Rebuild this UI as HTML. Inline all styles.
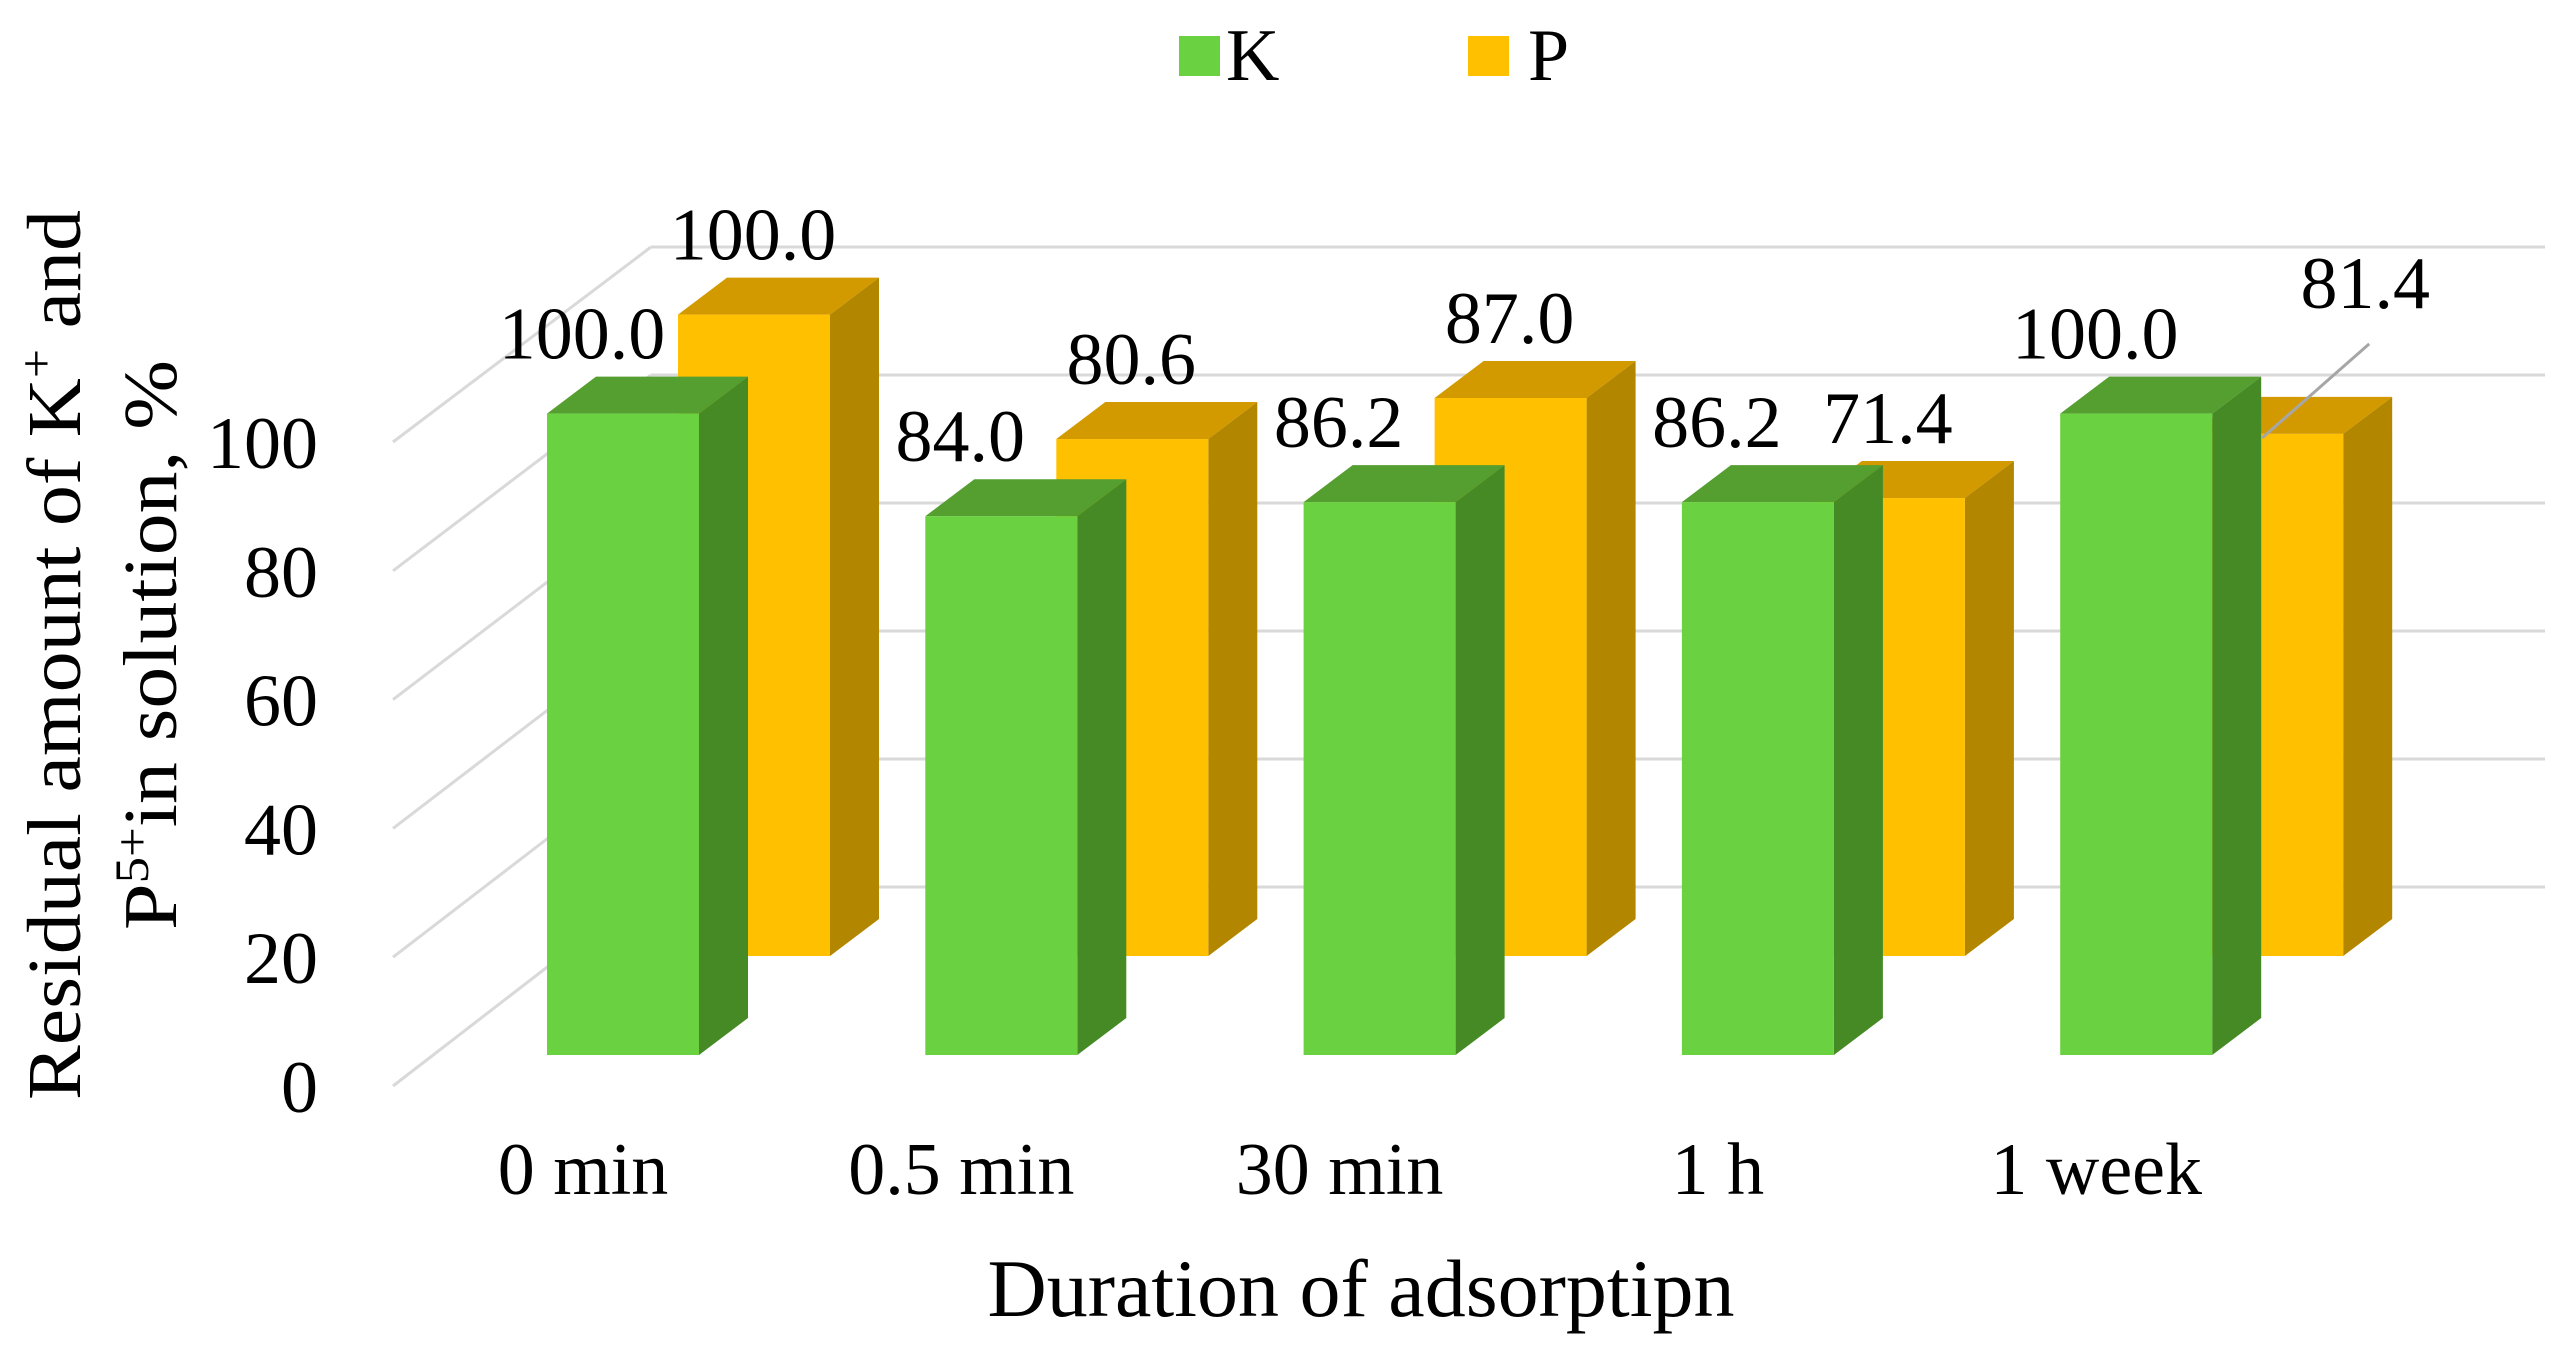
<!DOCTYPE html>
<html><head><meta charset="utf-8"><style>
html,body{margin:0;padding:0;background:#fff;}
svg{display:block;font-family:"Liberation Serif",serif;}
</style></head><body>
<svg id="chart" width="2568" height="1357" viewBox="0 0 2568 1357" xmlns="http://www.w3.org/2000/svg">
<g id="grid"></g>
<g id="yticks"></g>
<g id="bars"></g>
<g id="xlabels"></g>
<g>
  <rect x="1179" y="36" width="41" height="40" fill="#6AD141"/>
  <text x="1226" y="80" font-size="74">K</text>
  <rect x="1468" y="36" width="41" height="40" fill="#FFC000"/>
  <text x="1528" y="80" font-size="74">P</text>
</g>
<text x="1361" y="1316" font-size="82" text-anchor="middle">Duration of adsorptipn</text>
<g>
  <text x="0" y="0" font-size="76" text-anchor="middle" textLength="890" lengthAdjust="spacingAndGlyphs" transform="translate(80,655) rotate(-90)">Residual amount of K<tspan dy="-28" font-size="48">+</tspan><tspan dy="28"> and</tspan></text>
  <text x="0" y="0" font-size="76" text-anchor="middle" textLength="570" lengthAdjust="spacingAndGlyphs" transform="translate(176,645) rotate(-90)">P<tspan dy="-28" font-size="48">5+</tspan><tspan dy="28">in solution, %</tspan></text>
</g>
</svg>
<script>
const categories = ["0 min","0.5 min","30 min","1 h","1 week"];
const kValues = [100.0, 84.0, 86.2, 86.2, 100.0];
const pValues = [100.0, 80.6, 87.0, 71.4, 81.4];
const kLabels = ["100.0","84.0","86.2","86.2","100.0"];
const pLabels = ["100.0","80.6","87.0","71.4","81.4"];
const yTicks = [0,20,40,60,80,100];

const NS="http://www.w3.org/2000/svg";
const unit = 6.414;
const kBase = 1055, pBase = 956;
const x0 = 547, step = 378.3, bw = 152, pOff = 131, dX = 49, dY = 37;
const catX = i => x0 + i*step;
const hy = v => v*unit;
function mk(tag, attrs, parent){const e=document.createElementNS(NS,tag);for(const k in attrs)e.setAttribute(k,attrs[k]);parent.appendChild(e);return e;}

const grid=document.getElementById('grid'), yt=document.getElementById('yticks');
yTicks.forEach(t=>{
  const yf = 1086 - t*6.44, yb = 887 - t*6.40;
  const d=mk('line',{x1:393,y1:yf,x2:651,y2:yb,stroke:'#d9d9d9','stroke-width':3},grid);
  
  
  const h=mk('line',{x1:651,y1:yb,x2:2545,y2:yb,stroke:'#d9d9d9','stroke-width':3},grid);
  
  
  const tx=mk('text',{x:318,y:yf+26,'font-size':74,'text-anchor':'end'},yt);
  tx.textContent=t;
  
  
});

const bars=document.getElementById('bars');
function bar(x, base, v, cols, name){
  const top = base - hy(v);
  const g=mk('g',{},bars);
  
  
  mk('polygon',{points:`${x},${top} ${x+dX},${top-dY} ${x+bw+dX},${top-dY} ${x+bw},${top}`,fill:cols[2]},g);
  mk('polygon',{points:`${x+bw},${top} ${x+bw+dX},${top-dY} ${x+bw+dX},${base-dY} ${x+bw},${base}`,fill:cols[1]},g);
  mk('rect',{x:x,y:top,width:bw,height:base-top,fill:cols[0]},g);
  return top;
}
const xl=document.getElementById('xlabels');
categories.forEach((c,i)=>{
  const x=catX(i);
  const pt = bar(x+pOff, pBase, pValues[i], ['#FFC000','#B38600','#D39A00'], 'bar-p-'+i);
  const kt = bar(x, kBase, kValues[i], ['#6AD141','#468A26','#559E30'], 'bar-k-'+i);
  let px = x+pOff+75, py = pt-55;
  if(i===4){ px = x+pOff+174; py = pt-126;
    const l=mk('line',{x1:px+4,y1:py+36,x2:x+pOff+71,y2:pt+4,stroke:'#a6a6a6','stroke-width':3},bars);
    
    
  }
  const pl=mk('text',{x:px,y:py,'font-size':74,'text-anchor':'middle'},bars);
  pl.textContent=pLabels[i];
  
  
  const kl=mk('text',{x:x+35,y:kt-55,'font-size':74,'text-anchor':'middle'},bars);
  kl.textContent=kLabels[i];
  
  
  const cl=mk('text',{x:x+36,y:1194,'font-size':74,'text-anchor':'middle'},xl);
  cl.textContent=c;
  
  
});
</script>
</body></html>
